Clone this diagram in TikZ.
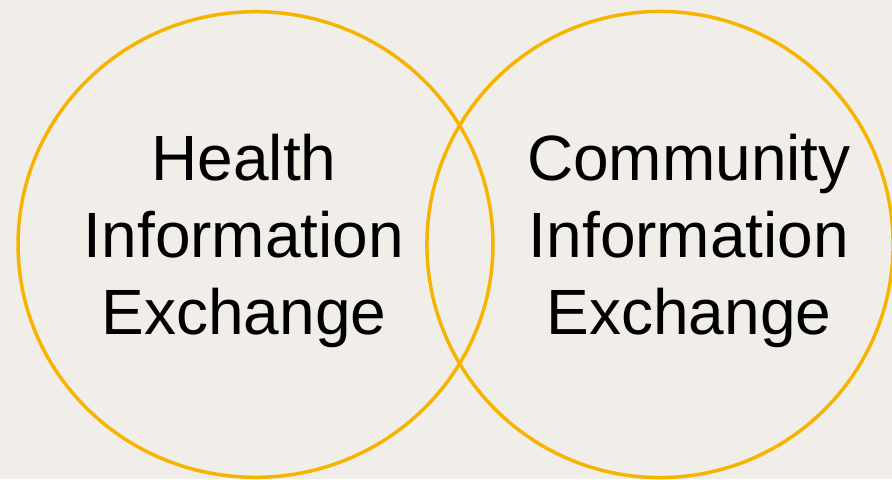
\documentclass[tikz,border=0pt]{standalone}
\usepackage{fontspec}
\setmainfont{Liberation Sans}
\definecolor{paper}{RGB}{241,238,233}
\definecolor{ringgold}{RGB}{246,180,0}
\tikzset{
	ring/.style={draw=ringgold,line width=2.6pt},
	bigtext/.style={align=center,inner sep=0pt,font=\fontsize{48}{57.5}\selectfont}
}
\begin{document}
\begin{tikzpicture}[line cap=round,line join=round,x=0.75pt,y=-0.75pt]
		\fill[paper] (0,0) rectangle (892,479);
		\useasboundingbox (0,0) rectangle (892,479);
		\draw[ring] (255.5,244.5) ellipse (178.1pt and 174.6pt);
		\draw[ring] (660,244.5) circle (174.8pt);
		\node[bigtext] (health) at (244,241) {Health\\Information\\Exchange};
		\node[bigtext] (community) at (689,241) {Community\\Information\\Exchange};
		\end{tikzpicture}
\end{document}
